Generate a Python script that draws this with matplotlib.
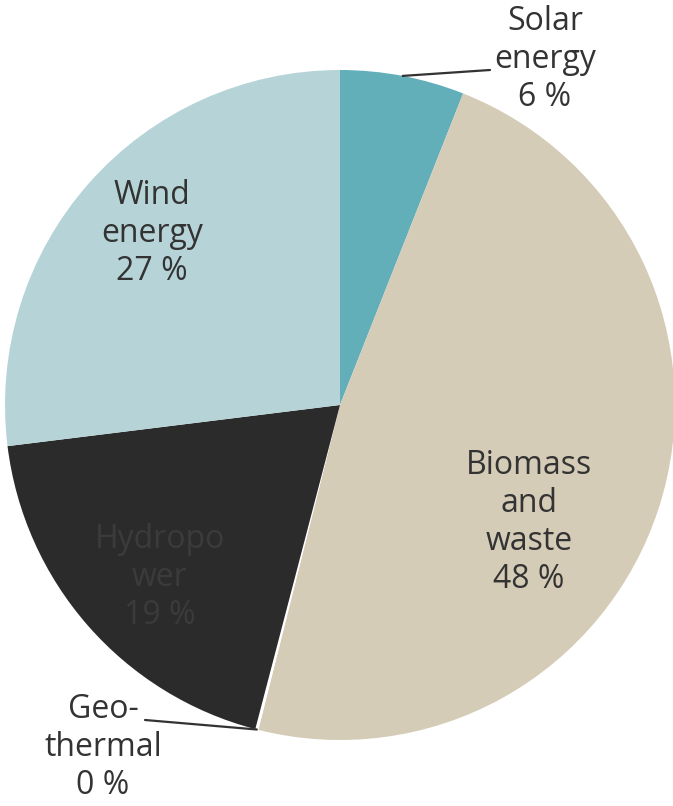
import numpy as np
import matplotlib.pyplot as plt

# Quote delle fonti rinnovabili (in %)
fonti = ["Solar energy", "Biomass and waste", "Geothermal", "Hydropower", "Wind energy"]
valori = [6, 48, 0.15, 19, 27]
etichette = ["Solar\nenergy\n6 %", "Biomass\nand\nwaste\n48 %", "Geo-\nthermal\n0 %",
             "Hydropo\nwer\n19 %", "Wind\nenergy\n27 %"]
colori = ["#62afba", "#d5ccb7", "#ffffff", "#2b2b2b", "#b6d4d8"]

W, H = 673, 806
CX, CY, R = 340, 405, 335  # centro e raggio in pixel


def px(x, y):
    # da pixel (origine in alto a sinistra) a coordinate dati
    return (x - CX) / R, (CY - y) / R


fig = plt.figure(figsize=(W / 100, H / 100), dpi=100)
ax = fig.add_axes([0, 0, 1, 1])

wedges, _ = ax.pie(valori, colors=colori, startangle=90, counterclock=False,
                   radius=1, wedgeprops=dict(linewidth=0))

# pie() reimposta limiti e aspetto, quindi li sistemo dopo
ax.set_aspect("auto")
ax.set_xlim(-CX / R, (W - CX) / R)
ax.set_ylim(-(H - CY) / R, CY / R)
ax.axis("off")

plt.rcParams['font.family'] = ['Open Sans', 'DejaVu Sans']
stile = dict(ha="center", va="center", fontsize=23, linespacing=1.2, color="#333333")

# Etichette interne
ax.text(*px(152, 233), etichette[4], **stile)
ax.text(*px(529, 523), etichette[1], **stile)
ax.text(*px(160, 578), etichette[3], **{**stile, "color": "#3b3b3b"})

# Etichette esterne con linea guida
ax.text(*px(545, 60), etichette[0], **stile)
ax.text(*px(103, 748), etichette[2], **stile)


def punto_medio(w):
    a = np.deg2rad((w.theta1 + w.theta2) / 2)
    return np.cos(a), np.sin(a)


ax.annotate("", xy=punto_medio(wedges[0]), xytext=px(490, 70),
            arrowprops=dict(arrowstyle="-", color="#333333", lw=1.6,
                            shrinkA=0, shrinkB=0))
ax.annotate("", xy=punto_medio(wedges[2]), xytext=px(145, 720),
            arrowprops=dict(arrowstyle="-", color="#333333", lw=1.6,
                            shrinkA=0, shrinkB=0))

plt.savefig("out.png", dpi=100)
